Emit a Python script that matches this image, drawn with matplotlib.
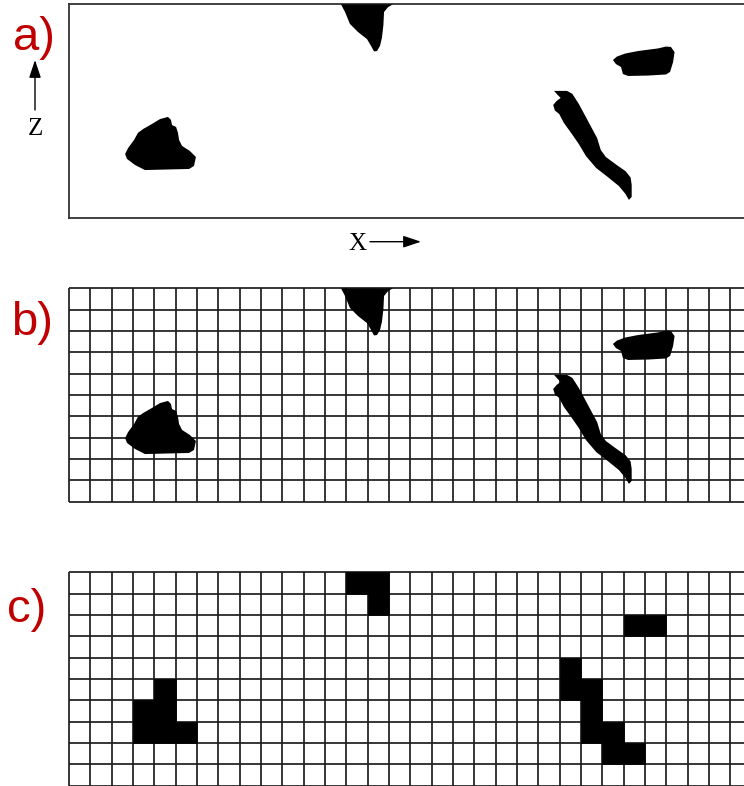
import matplotlib
matplotlib.use("Agg")
import matplotlib.pyplot as plt
from matplotlib.patches import Polygon, Rectangle, FancyArrowPatch

# ---- data (grid-cell units; x to the right, z downward from the top) ----
n_cols = 32
n_rows = 10

blob1 = [(2.63, 7.02), (2.77, 6.74), (3.05, 6.36), (3.23, 6.03), (3.47, 5.85),
         (3.89, 5.61), (4.27, 5.38), (4.64, 5.28), (4.78, 5.42), (4.83, 5.66),
         (5.02, 5.75), (5.11, 6.03), (5.16, 6.36), (5.30, 6.64), (5.67, 6.88),
         (5.95, 7.16), (5.86, 7.58), (5.63, 7.72), (3.56, 7.77), (3.09, 7.53),
         (2.72, 7.25)]
blob2 = [(12.75, 0.0), (15.19, 0.0), (14.96, 0.13), (14.77, 0.36), (14.74, 0.97),
         (14.67, 1.58), (14.58, 1.95), (14.44, 2.19), (14.30, 2.21), (14.16, 1.95),
         (13.97, 1.63), (13.55, 1.30), (13.17, 0.92), (12.94, 0.36)]
blob3 = [(25.50, 2.61), (25.69, 2.45), (26.07, 2.31), (26.68, 2.19), (27.61, 2.07),
         (27.99, 1.98), (28.22, 2.00), (28.39, 2.24), (28.32, 2.71), (28.18, 3.17),
         (27.99, 3.29), (27.15, 3.34), (26.21, 3.36), (25.97, 3.27), (25.88, 2.94),
         (25.64, 2.80)]
blob4 = [(22.74, 4.06), (23.35, 4.06), (23.60, 4.20), (23.90, 4.67), (24.23, 5.28),
         (24.48, 5.75), (24.76, 6.27), (24.93, 6.83), (25.17, 7.16), (25.63, 7.50),
         (26.10, 7.83), (26.33, 8.12), (26.38, 8.47), (26.38, 9.03), (26.25, 9.17),
         (26.08, 8.88), (25.78, 8.52), (25.20, 8.05), (24.72, 7.68), (24.24, 7.12),
         (23.90, 6.55), (23.54, 6.03), (23.20, 5.56), (22.98, 5.14), (22.78, 4.98),
         (22.70, 4.72), (22.86, 4.53), (23.05, 4.39), (22.91, 4.25)]
blobs = [blob1, blob2, blob3, blob4]

# occupied cells in the pixelised version (column, row from top)
filled_cols = [4, 3, 4, 3, 4, 5, 13, 14, 14, 26, 27, 23, 23, 24, 24, 24, 25, 25, 26]
filled_rows = [5, 6, 6, 7, 7, 7, 0, 0, 1, 2, 2, 4, 5, 5, 6, 7, 7, 8, 8]

panel_labels = ["a)", "b)", "c)"]

# ---- figure ----
W, H = 744, 786
fig = plt.figure(figsize=(W / 100, H / 100), dpi=100)
cell = 21.33
left = 69 / W
width = n_cols * cell / W
height = n_rows * cell / H
tops = [4.3, 288.3, 572.3]

red = "#c00000"
label_pos = [(13, 50), (11, 335), (7, 622)]

axes = []
for i, top in enumerate(tops):
    ax = fig.add_axes([left, 1 - (top + n_rows * cell) / H, width, height])
    ax.set_xlim(0, n_cols)
    ax.set_ylim(n_rows, 0)
    ax.set_xticks([])
    ax.set_yticks([])
    axes.append(ax)

# panel a: box with blobs
ax = axes[0]
for s in ax.spines.values():
    s.set_linewidth(1.3)
    s.set_color("#333333")
for b in blobs:
    ax.add_patch(Polygon(b, closed=True, facecolor="black", edgecolor="none",
                         zorder=3))

# panel b: blobs over grid
ax = axes[1]
for b in blobs:
    ax.add_patch(Polygon(b, closed=True, facecolor="black", edgecolor="none",
                         zorder=3))

# panel c: pixelised cells over grid
ax = axes[2]
for c, r in zip(filled_cols, filled_rows):
    ax.add_patch(Rectangle((c, r), 1, 1, facecolor="black", edgecolor="black",
                           linewidth=0.5, zorder=3))

for ax in axes[1:]:
    for s in ax.spines.values():
        s.set_visible(False)
    ax.vlines(range(0, n_cols + 1), 0, n_rows, colors="#1e1e1e", linewidth=1.25,
              clip_on=False, zorder=1)
    ax.hlines(range(0, n_rows + 1), 0, n_cols, colors="#1e1e1e", linewidth=1.25,
              clip_on=False, zorder=1)

# panel labels
for lab, (px, py) in zip(panel_labels, label_pos):
    fig.text(px / W, 1 - py / H, lab, color=red, fontsize=34,
             family="Liberation Sans", ha="left", va="baseline")

# axis direction arrows
arrow_style = dict(arrowstyle="-|>,head_length=0.6,head_width=0.2",
                   color="black", lw=1.0, shrinkA=0, shrinkB=0,
                   mutation_scale=18)
fig.add_artist(FancyArrowPatch(
    (35 / W, 1 - 110 / H), (35 / W, 1 - 60 / H), transform=fig.transFigure,
    **arrow_style))
fig.text(35 / W, 1 - 135 / H, "Z", fontsize=18, family="Liberation Serif",
         ha="center", va="baseline")
fig.add_artist(FancyArrowPatch(
    (370 / W, 1 - 241.7 / H), (421 / W, 1 - 241.7 / H), transform=fig.transFigure,
    **arrow_style))
fig.text(357 / W, 1 - 250 / H, "X", fontsize=18, family="Liberation Serif",
         ha="center", va="baseline")

fig.savefig("out.png", dpi=100)
